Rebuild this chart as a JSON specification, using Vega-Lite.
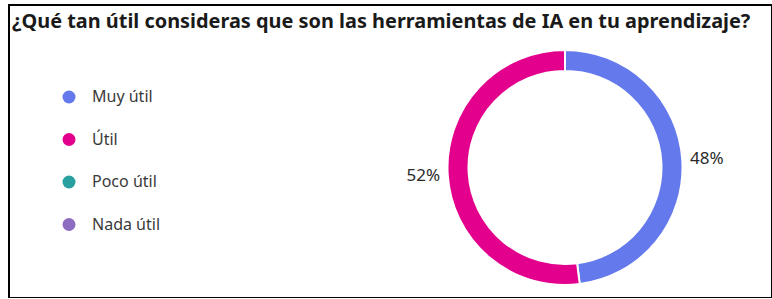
{
  "$schema": "https://vega.github.io/schema/vega-lite/v6.json",
  "autosize": {"type": "none"},
  "padding": {"left": 9, "top": 5, "right": 0, "bottom": 0},
  "width": 763,
  "height": 293,
  "background": "white",
  "config": {
    "view": {"stroke": "black", "strokeWidth": 2},
    "font": "Noto Sans"
  },
  "title": {
    "text": "¿Qué tan útil consideras que son las herramientas de IA en tu aprendizaje?",
    "anchor": "start",
    "frame": "group",
    "orient": "top",
    "offset": -23,
    "baseline": "alphabetic",
    "dx": 3,
    "dy": 20,
    "font": "Noto Sans",
    "fontSize": 19.9,
    "fontWeight": "bold",
    "color": "#1a1a1a"
  },
  "data": {
    "values": [
      {"respuesta": "Muy útil", "pct": 0.48, "idx": 1},
      {"respuesta": "Útil", "pct": 0.52, "idx": 2},
      {"respuesta": "Poco útil", "pct": 0, "idx": 3},
      {"respuesta": "Nada útil", "pct": 0, "idx": 4}
    ]
  },
  "encoding": {
    "theta": {"field": "pct", "type": "quantitative", "stack": true},
    "order": {"field": "idx", "type": "quantitative"},
    "x": {"value": 556},
    "y": {"value": 162.5}
  },
  "layer": [
    {
      "mark": {"type": "arc", "radius": 117.5, "radius2": 96.5, "stroke": "white", "strokeWidth": 2},
      "encoding": {
        "color": {
          "field": "respuesta",
          "type": "nominal",
          "sort": null,
          "scale": {
            "domain": ["Muy útil", "Útil", "Poco útil", "Nada útil"],
            "range": ["#6479EC", "#E3008C", "#27A09F", "#8E6CC0"]
          },
          "legend": {
            "title": null,
            "orient": "none",
            "legendX": 52,
            "legendY": 84,
            "padding": 0,
            "symbolType": "circle",
            "symbolSize": 169,
            "symbolStrokeWidth": 0,
            "labelFontSize": 16,
            "labelFont": "Noto Sans",
            "labelColor": "#3a3a3a",
            "labelOffset": 15,
            "rowPadding": 26.5
          }
        }
      }
    },
    {
      "transform": [{"filter": "datum.pct > 0"}],
      "mark": {"type": "text", "radius": 142, "fontSize": 17, "font": "Noto Sans", "color": "#2a2a2a", "align": "center", "baseline": "middle"},
      "encoding": {
        "text": {"field": "pct", "type": "quantitative", "format": ".0%"}
      }
    }
  ]
}
